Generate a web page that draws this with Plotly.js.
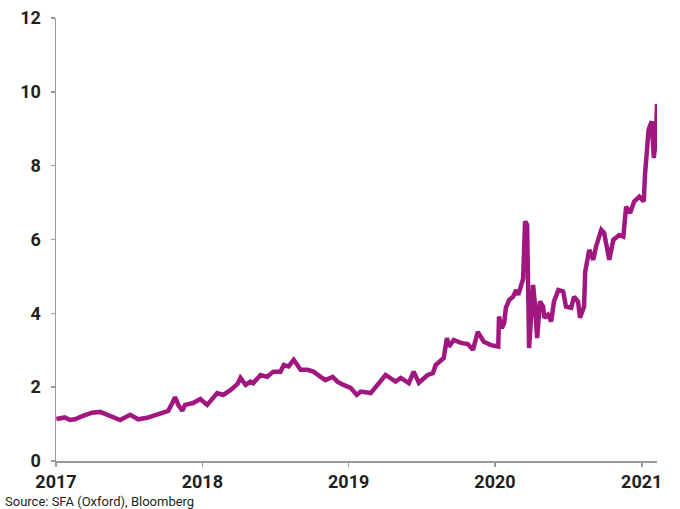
<!DOCTYPE html>
<html>
<head>
<meta charset="utf-8">
<script src="https://cdn.plot.ly/plotly-3.0.1.min.js"></script>
<style>
  html, body { margin: 0; padding: 0; background: #fff; }
  #chart { width: 680px; height: 509px; }
</style>
</head>
<body>
<div id="chart"></div>
<script>
const dates = [
  '2017-01-02','2017-01-23','2017-02-05','2017-02-17','2017-03-09','2017-04-01','2017-04-21','2017-05-11','2017-05-23','2017-06-10',
  '2017-07-05','2017-07-25','2017-08-16','2017-09-10','2017-10-08','2017-10-18','2017-10-25','2017-11-02','2017-11-12','2017-11-19',
  '2017-12-09','2017-12-27','2018-01-13','2018-02-07','2018-02-22','2018-03-12','2018-03-30','2018-04-06','2018-04-19','2018-05-01',
  '2018-05-08','2018-05-26','2018-06-12','2018-06-27','2018-07-15','2018-07-23','2018-08-04','2018-08-17','2018-09-03','2018-09-20',
  '2018-10-05','2018-10-23','2018-11-04','2018-11-22','2018-12-04','2018-12-19','2019-01-06','2019-01-21','2019-01-31','2019-02-25',
  '2019-03-15','2019-03-22','2019-04-03','2019-04-28','2019-05-11','2019-05-31','2019-06-12','2019-06-25','2019-07-17','2019-07-30',
  '2019-08-06','2019-08-26','2019-09-03','2019-09-08','2019-09-20','2019-10-08','2019-10-25','2019-11-07','2019-11-19','2019-12-04',
  '2019-12-22','2020-01-09','2020-01-11','2020-01-18','2020-01-24','2020-01-28','2020-02-05','2020-02-15','2020-02-23','2020-02-28',
  '2020-03-06','2020-03-11','2020-03-16','2020-03-21','2020-03-26','2020-04-05','2020-04-10','2020-04-15','2020-04-22','2020-04-30',
  '2020-05-03','2020-05-12','2020-05-20','2020-05-27','2020-06-07','2020-06-19','2020-06-26','2020-07-09','2020-07-16','2020-07-26',
  '2020-07-31','2020-08-10','2020-08-13','2020-08-23','2020-09-02','2020-09-09','2020-09-22','2020-09-29','2020-10-12','2020-10-22',
  '2020-11-06','2020-11-16','2020-11-23','2020-12-03','2020-12-13','2020-12-26','2021-01-06','2021-01-09','2021-01-18','2021-01-26',
  '2021-01-31','2021-02-05','2021-02-08'
];
const values = [
  1.14,1.18,1.11,1.13,1.22,1.31,1.33,1.25,1.20,1.11,
  1.25,1.13,1.17,1.25,1.36,1.57,1.73,1.52,1.36,1.52,
  1.57,1.68,1.52,1.84,1.79,1.92,2.09,2.25,2.06,2.15,
  2.11,2.33,2.28,2.42,2.42,2.60,2.56,2.74,2.47,2.47,
  2.42,2.28,2.19,2.28,2.15,2.06,1.98,1.79,1.88,1.84,
  2.06,2.15,2.33,2.15,2.25,2.11,2.42,2.12,2.33,2.38,
  2.60,2.79,3.33,3.10,3.28,3.20,3.17,3.01,3.50,3.23,
  3.14,3.10,3.91,3.60,3.74,4.15,4.36,4.45,4.63,4.50,
  4.77,4.93,6.49,6.40,3.06,4.77,4.18,3.33,4.32,4.18,
  3.88,3.96,3.78,4.32,4.63,4.59,4.18,4.15,4.45,4.32,
  3.88,4.18,5.13,5.72,5.45,5.81,6.26,6.18,5.45,5.99,
  6.12,6.08,6.89,6.72,7.03,7.16,7.03,7.75,8.97,9.20,
  8.21,8.70,9.67
];
const xTickVals = ['2017-01-01','2018-01-01','2019-01-01','2020-01-01','2021-01-01'];
const xTickText = ['2017','2018','2019','2020','2021'];
const yTickVals = [0,2,4,6,8,10,12];
const sourceText = 'Source: SFA (Oxford), Bloomberg';

const tickFont = {family: 'Roboto, "Open Sans", sans-serif', size: 18, color: '#231f20', weight: 700};

Plotly.newPlot('chart', [{
  x: dates, y: values, type: 'scatter', mode: 'lines',
  line: {color: '#a0187f', width: 4.5},
  hoverinfo: 'skip'
}], {
  width: 680, height: 509,
  margin: {l: 56, r: 23, t: 18, b: 48},
  paper_bgcolor: '#fff', plot_bgcolor: '#fff',
  showlegend: false,
  xaxis: {
    type: 'date', range: ['2017-01-01','2021-02-08'],
    tickvals: xTickVals, ticktext: xTickText,
    showgrid: false, zeroline: false,
    showline: true, linecolor: '#9a9a9a', linewidth: 1.5,
    ticks: 'outside', ticklen: 4, tickcolor: '#9a9a9a', tickwidth: 1.5,
    tickfont: tickFont
  },
  yaxis: {
    range: [0, 12], tickvals: yTickVals,
    showgrid: false, zeroline: false,
    showline: true, linecolor: '#9a9a9a', linewidth: 1.5,
    ticks: 'outside', ticklen: 4, tickcolor: '#9a9a9a', tickwidth: 1.5,
    ticklabelstandoff: 6,
    tickfont: tickFont
  },
  annotations: [{
    text: sourceText, xref: 'paper', yref: 'paper',
    x: 0, y: 0, xanchor: 'left', yanchor: 'middle',
    xshift: -53, yshift: -40, showarrow: false,
    font: {family: 'Roboto, sans-serif', size: 13, color: '#231f20'}
  }]
}, {displayModeBar: false, staticPlot: true});
</script>
</body>
</html>
